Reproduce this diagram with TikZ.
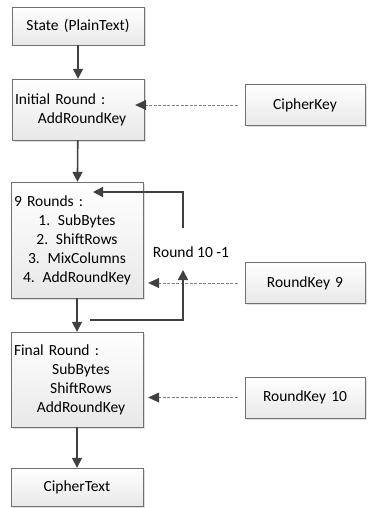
\documentclass[tikz,border=0pt]{standalone}
\usepackage{fontspec}
\setmainfont{Carlito}
\usetikzlibrary{arrows.meta,shadows}
\definecolor{darkline}{HTML}{404040}
\definecolor{boxline}{HTML}{707070}
\tikzset{
    block/.style={draw=boxline, top color=white, bottom color=gray!18, minimum width=132pt, text width=126pt, inner xsep=3pt, align=center, font=\fontsize{15.5}{19}\selectfont, drop shadow={shadow xshift=1.5pt, shadow yshift=-1.5pt, opacity=0.25}},
    keybox/.style={block, minimum width=120pt, text width=114pt, minimum height=41pt},
    flow/.style={draw=darkline, line width=1.6pt, -{Triangle[length=10pt,width=10pt]}},
    keyflow/.style={draw=gray, dash pattern=on 3pt off 1.5pt, line width=0.6pt, shorten <=7pt, -{Triangle[color=darkline,fill=darkline,length=11pt,width=10pt,line width=0.6pt]}}
}
\begin{document}
\begin{tikzpicture}[x=1pt, y=-1pt]
\useasboundingbox (0,0) rectangle (369,508);

\node[block, minimum height=38pt] (plain) at (78,26) {State (PlainText)};
\node[block, minimum height=61pt] (initial) at (78,109.5) {Initial Round :\hfill\null\\ \hspace*{8pt}AddRoundKey};
\node[block, minimum height=116pt] (nine) at (77,240) {9 Rounds :\hfill\null\\ 1. SubBytes\\ 2. ShiftRows\\ 3. MixColumns\\ 4. AddRoundKey};
\node[block, minimum height=95pt] (final) at (77,379.5) {Final Round :\hfill\null\\ \hspace*{8pt}SubBytes\\ \hspace*{8pt}ShiftRows\\ \hspace*{8pt}AddRoundKey};
\node[block, minimum height=38pt] (ctext) at (77,487) {CipherText};

\node[keybox] (ckey) at (305,105) {CipherKey};
\node[keybox] (rk9) at (305,283) {RoundKey 9};
\node[keybox] (rk10) at (305,397.5) {RoundKey 10};

\node[font=\fontsize{15.5}{19}\selectfont] (rnd) at (191,252) {Round 10 -1};

\draw[flow] (plain) -- (initial);
\draw[flow] (initial) -- (nine);
\draw[flow] (nine) -- (final);
\draw[flow] (final) -- (ctext);

\draw[keyflow, shorten >=-9pt] (ckey.west) -- (ckey.west -| initial.east);
\draw[keyflow, shorten >=5pt] (rk9.west) -- (rk9.west -| nine.east);
\draw[keyflow, shorten >=5pt] (rk10.west) -- (rk10.west -| final.east);

% loop back for the repeated rounds
\coordinate (lpA) at (90,320);
\coordinate (lpB) at (183,270);
\coordinate (lpC) at (183,228);
\coordinate (lpD) at (93,192);
\draw[flow] (lpA) -| (lpB);
\draw[flow] (lpC) |- (lpD);

\end{tikzpicture}
\end{document}
